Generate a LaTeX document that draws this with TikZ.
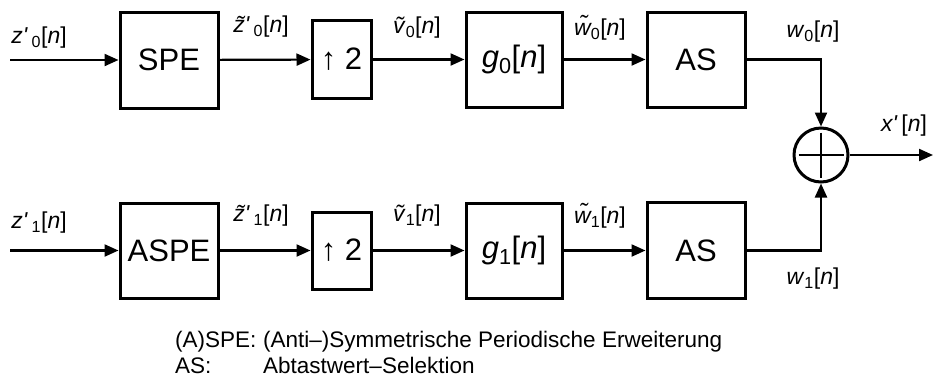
\documentclass[tikz,border=0pt]{standalone}
\usepackage{fontspec}
\setmainfont{Liberation Sans}
\usetikzlibrary{arrows.meta,calc}
\newcommand\sg[2]{\textit{#1}\textsubscript{#2}[\textit{n}]}
\newcommand\sgp[2]{\textit{#1\textquotesingle}\,\textsubscript{#2}[\textit{n}]}
\begin{document}
\begin{tikzpicture}[x=1pt,y=-1pt,
  blk/.style={draw,line width=3pt,inner sep=0pt,font=\fontsize{31}{36}\selectfont},
  lbl/.style={inner sep=0pt,font=\fontsize{23}{27}\selectfont},
  leg/.style={inner sep=0pt,anchor=base west,font=\fontsize{22.5}{27}\selectfont},
  sig/.style={line width=2.2pt,-{Triangle[length=14pt,width=12pt]}},
  wire/.style={line width=2.2pt}]
\useasboundingbox (0,0) rectangle (934,389);
% top row
\node[blk,minimum width=98pt,minimum height=96pt] (spe) at (169,60) {SPE};
\node[blk,minimum width=59pt,minimum height=78pt] (up0) at (341.5,59.5) {↑ 2};
\node[blk,minimum width=96pt,minimum height=95pt] (g0) at (514,59.5) {\sg{g}{0}};
\node[blk,minimum width=98pt,minimum height=95pt] (as0) at (696,59.5) {AS};
% bottom row
\node[blk,minimum width=98pt,minimum height=95pt] (aspe) at (169,250.5) {ASPE};
\node[blk,minimum width=59pt,minimum height=77pt] (up1) at (341.5,250.5) {↑ 2};
\node[blk,minimum width=96pt,minimum height=95pt] (g1) at (514,250.5) {\sg{g}{1}};
\node[blk,minimum width=98pt,minimum height=96pt] (as1) at (696,250.5) {AS};
% sum
\node[draw,circle,line width=3pt,minimum size=54pt,inner sep=0pt] (sum) at (821,155) {};
\draw[wire] ($(sum.north)+(0,6)$) -- ($(sum.south)+(0,-6)$);
\draw[wire] ($(sum.west)+(6,0)$) -- ($(sum.east)+(-6,0)$);
\coordinate (in0) at (10,60);
\coordinate (in1) at (10,250.5);
\coordinate (out) at (933,155);
% connectors
\draw[sig] (in0) -- (spe);
\draw[sig] (spe) -- (up0);
\draw[sig] (up0) -- (g0);
\draw[sig] (g0) -- (as0);
\draw[sig] (as0.east) -| (sum.north);
\draw[sig] (in1) -- (aspe);
\draw[sig] (aspe) -- (up1);
\draw[sig] (up1) -- (g1);
\draw[sig] (g1) -- (as1);
\draw[sig] (as1.east) -| (sum.south);
\draw[sig] (sum) -- (out);
% labels
\node[lbl] (lz0) at (39,38) {\sgp{z}{0}};
\node[lbl] (ltz0) at (261,27) {\sgp{\~{z}}{0}};
\node[lbl] (lv0) at (417,28) {\sg{\~{v}}{0}};
\node[lbl] (lw0t) at (600,28) {\sg{\~{w}}{0}};
\node[lbl] (lw0) at (813,32) {\sg{w}{0}};
\node[lbl] (lx) at (904,126) {\textit{x\textquotesingle}\,[\textit{n}]};
\node[lbl] (lz1) at (39,223) {\sgp{z}{1}};
\node[lbl] (ltz1) at (261,216) {\sgp{\~{z}}{1}};
\node[lbl] (lv1) at (417,216) {\sg{\~{v}}{1}};
\node[lbl] (lw1t) at (600,216) {\sg{\~{w}}{1}};
\node[lbl] (lw1) at (813,279) {\sg{w}{1}};
% legend
\node[leg] (k1) at (175,347) {(A)SPE:};
\node[leg] (d1) at (263,347) {(Anti–)Symmetrische Periodische Erweiterung};
\node[leg] (k2) at (175,373) {AS:};
\node[leg] (d2) at (263,373) {Abtastwert–Selektion};
\end{tikzpicture}
\end{document}
